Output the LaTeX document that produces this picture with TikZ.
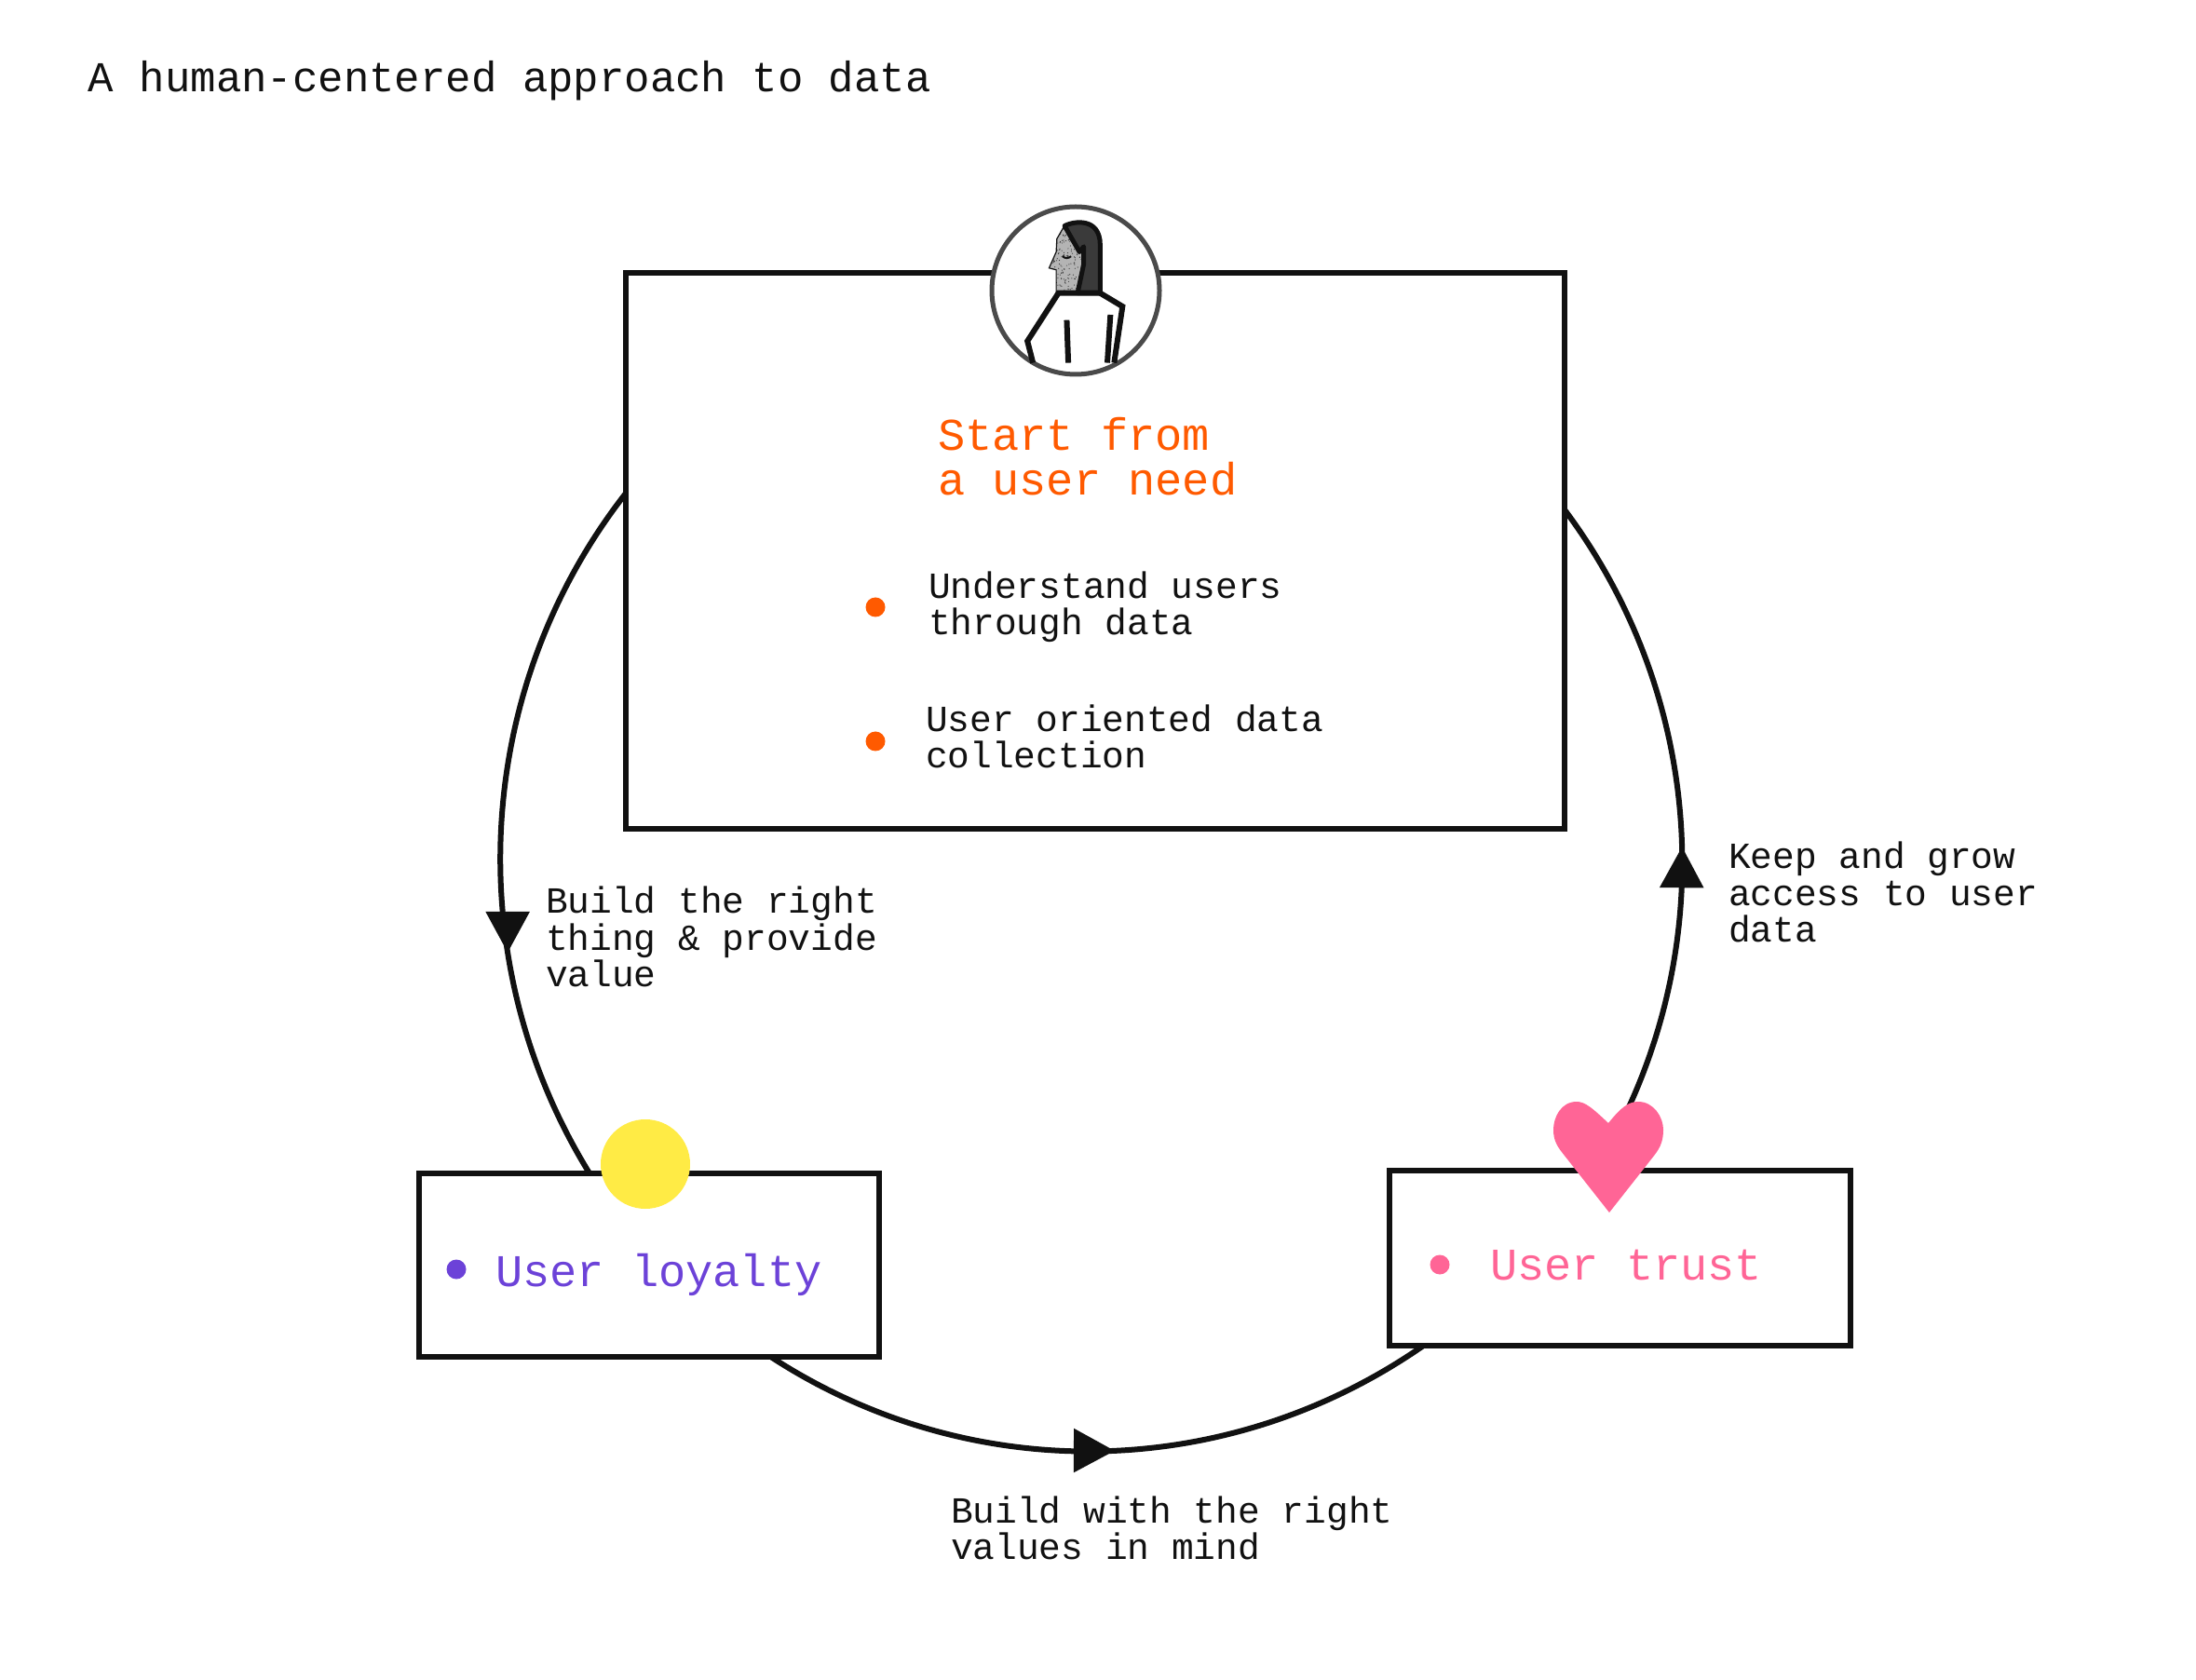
\documentclass[tikz,border=0pt]{standalone}
\usepackage{fontspec}
\setmonofont{Liberation Mono}
\usetikzlibrary{arrows.meta, decorations.markings}
\definecolor{c1}{HTML}{111111}
\definecolor{c2}{HTML}{FF5A00}
\definecolor{c3}{HTML}{6C42D8}
\definecolor{c4}{HTML}{FF6596}
\definecolor{c5}{HTML}{FFEB45}
\definecolor{ringcolor}{HTML}{4A4A4A}
\definecolor{hair}{HTML}{3A3A3A}
\definecolor{skin}{HTML}{B4B4B4}

\begin{document}
\begin{tikzpicture}[
    every node/.style={font=\ttfamily, inner sep=0pt, outer sep=0pt},
    box/.style={rectangle, draw=c1, fill=white, line width=0.06cm},
    flow/.style 2 args={c1, line width=0.06cm, looseness=0.935, postaction={decorate},
        decoration={markings, mark=at position #1 with {\pgftransformrotate{#2}\arrow{Triangle[length=4.4mm, width=4.6mm]}}}},
    lab/.style={anchor=west, align=left, text=c1, font=\ttfamily\fontsize{11.25}{11.15}\selectfont},
    big/.style={anchor=west, align=left, font=\ttfamily\fontsize{13.85}{13.8}\selectfont},
    bullet/.style={circle, minimum size=0.21cm},
    line/.style={c1, line width=0.06cm, line join=miter},
]
\useasboundingbox (0,0) rectangle (23.58,18.03);

\node[anchor=west, text=c1, font=\ttfamily\fontsize{13}{13}\selectfont] (title) at (0.95,17.16) {A human-centered approach to data};

% ============================================================ the three boxes
\node[box, minimum width=10.08cm, minimum height=5.97cm] (needbox) at (11.76,12.115) {};
\node[box, minimum width=4.94cm, minimum height=1.97cm] (loyaltybox) at (6.97,4.445) {};
\node[box, minimum width=4.95cm, minimum height=1.88cm] (trustbox) at (17.395,4.52) {};

% ============================================================ the loop
\draw[flow={0.673}{-9}] (needbox.173.83) to[out=232, in=121.7] (loyaltybox.123.8);
\draw[flow={0.523}{-3}] (loyaltybox.-37.4) to[out=326.9, in=214.8] (trustbox.204.6);
\draw[flow={0.484}{-2}] (trustbox.106) to[out=58.4, in=306.8] (needbox.5.16);

\node[lab] (buildlab) at (5.86,7.97) {Build the right\\thing \& provide\\value};
\node[lab] (keeplab) at (18.56,8.45) {Keep and grow\\access to user\\data};
\node[lab] (valueslab) at (10.21,1.62) {Build with the right\\values in mind};

% ============================================================ start from a need
\node[circle, draw=ringcolor, fill=white, line width=0.05cm, minimum size=1.80cm] (avatar) at (11.55,14.91) {};
\begin{scope}[shift={(10.40,16.03)}, x=0.003333cm, y=-0.003333cm]
    \fill[skin] (308,130) -- (285,170) -- (283,212) -- (260,262) -- (283,270) -- (283,345) -- (355,345) -- (372,250) -- (372,195) -- (358,212) -- cycle;
    % speckle on the face
    \begin{scope}
        \clip (308,130) -- (285,170) -- (283,212) -- (260,262) -- (283,270) -- (283,345) -- (355,345) -- (372,250) -- (372,195) -- (358,212) -- cycle;
        \pgfmathsetseed{7}
        \foreach \i in {1,...,260}{
            \fill[hair] ({255+120*rnd},{125+225*rnd}) circle (0.006cm);
        }
    \end{scope}
    \filldraw[fill=hair, draw=c1, line width=0.05cm, line join=round] (310,128) .. controls (340,112) and (425,100) .. (425,190)
        -- (425,345) -- (352,345) -- (372,250) -- (372,195) -- (358,212) -- cycle;
    \draw[c1, line width=0.012cm] (308,130) -- (285,170) -- (283,212) -- (260,264) -- (283,270) -- (283,345);
    \draw[c1, line width=0.02cm] (303,226) .. controls (312,234) and (322,234) .. (331,226);
    \draw[line] (425,345) -- (290,345) -- (190,500) -- (208,570);
    \draw[line] (425,345) -- (497,388) -- (470,570);
    \draw[line] (317,432) -- (322,570);
    \draw[line] (458,415) -- (448,570);
\end{scope}

\node[big, text=c2] (needlab) at (10.07,13.13) {Start from\\a user need};
\node[bullet, fill=c2] (needdot1) at (9.40,11.51) {};
\node[lab] (needtext1) at (9.97,11.51) {Understand users\\through data};
\node[bullet, fill=c2] (needdot2) at (9.40,10.07) {};
\node[lab] (needtext2) at (9.94,10.12) {User oriented data\\collection};

% ============================================================ user loyalty
\node[circle, fill=c5, minimum size=0.96cm] (sun) at (6.93,5.53) {};
\node[bullet, fill=c3] (loyaltydot) at (4.90,4.40) {};
\node[big, text=c3] (loyaltylab) at (5.32,4.34) {User loyalty};

% ============================================================ user trust
\fill[c4] (17.27,5.97) .. controls (17.10,6.13) and (17.02,6.20) .. (16.93,6.20)
    .. controls (16.76,6.20) and (16.68,6.03) .. (16.68,5.90)
    .. controls (16.68,5.78) and (16.72,5.72) .. (16.80,5.62)
    -- (17.28,5.01) -- (17.76,5.62)
    .. controls (17.84,5.72) and (17.86,5.80) .. (17.86,5.90)
    .. controls (17.86,6.03) and (17.76,6.20) .. (17.59,6.20)
    .. controls (17.48,6.20) and (17.40,6.13) .. (17.27,5.97) -- cycle;
\node[bullet, fill=c4] (trustdot) at (15.46,4.45) {};
\node[big, text=c4] (trustlab) at (16.00,4.44) {User trust};

\end{tikzpicture}
\end{document}
